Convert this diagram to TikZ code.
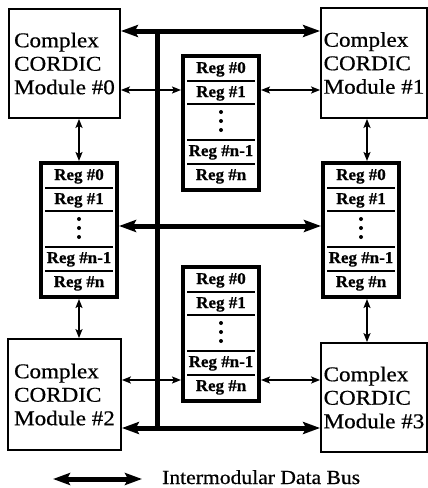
\documentclass[tikz,border=0pt]{standalone}
\usepackage{fontspec}
\setmainfont{Liberation Serif}
\newfontfamily\modfont[FakeStretch=1.1,FakeBold=0.6]{Liberation Serif}
\newfontfamily\regfont[FakeStretch=1.03,FakeBold=0.5]{Liberation Serif Bold}
\newfontfamily\legfont[FakeStretch=1.08,FakeBold=0.6]{Liberation Serif}
\usetikzlibrary{arrows.meta,calc}

\tikzset{
 module/.style={draw, line width=1.8pt, rectangle, align=left, inner sep=0pt,
   font=\modfont\fontsize{21}{23.5}\selectfont},
 stackbox/.style={draw, line width=4pt, rectangle, minimum width=76pt, minimum height=134pt, inner sep=0pt},
 sepline/.style={line width=2pt},
 reglabel/.style={anchor=base, inner sep=0pt, font=\regfont\fontsize{16.5}{18}\selectfont},
 bus/.style={line width=5pt, {Stealth[length=17pt,width=12pt,inset=3pt]}-{Stealth[length=17pt,width=12pt,inset=3pt]}},
 busline/.style={line width=5pt},
 link/.style={line width=1.6pt, {Stealth[length=9pt,width=7pt,inset=2pt]}-{Stealth[length=9pt,width=7pt,inset=2pt]}},
 legendtext/.style={anchor=base west, inner sep=0pt, font=\legfont\fontsize{20}{22}\selectfont},
}

\newcommand\regstack[2]{%
 \node[stackbox] (#1) at (#2) {};
 \foreach \s in {27,50,86,110}
   \draw[sepline] ([xshift=6pt,yshift=-\s*1pt]#1.north west) -- ([xshift=-6pt,yshift=-\s*1pt]#1.north east);
 \node[reglabel] (#1-r0) at ([yshift=-19pt]#1.north) {Reg \#0};
 \node[reglabel] (#1-r1) at ([yshift=-43pt]#1.north) {Reg \#1};
 \foreach \d in {58,67,76}
   \fill ([yshift=-\d*1pt]#1.north) circle (2pt);
 \node[reglabel] (#1-rn1) at ([yshift=-102pt]#1.north) {Reg \#n-1};
 \node[reglabel] (#1-rn) at ([yshift=-126pt]#1.north) {Reg \#n};
}

\begin{document}
\begin{tikzpicture}[x=1pt,y=-1pt]
\useasboundingbox (0,0) rectangle (428,488);

% modules
\node[module, minimum width=111pt, minimum height=109pt] (m0) at (64.5,63.5) {Complex\\CORDIC\\Module \#0};
\node[module, minimum width=106pt, minimum height=110pt] (m1) at (374,63) {Complex\\CORDIC\\Module \#1};
\node[module, minimum width=113pt, minimum height=111pt] (m2) at (64.5,394.5) {Complex\\CORDIC\\Module \#2};
\node[module, minimum width=106pt, minimum height=109pt] (m3) at (374,397.5) {Complex\\CORDIC\\Module \#3};

% register stacks
\regstack{ts}{221,123}
\regstack{bs}{221,334}
\regstack{ls}{79,230}
\regstack{rs}{361,230}

% bus
\coordinate (tj) at (157,31);
\coordinate (mj) at (157,226);
\coordinate (bj) at (157,428);
\draw[busline] (tj) -- (bj);
\draw[bus] (tj -| m0.east) -- (tj -| m1.west);
\draw[bus] (mj -| ls.east) -- (mj -| rs.west);
\draw[bus] (bj -| m2.east) -- (bj -| m3.west);

% thin links
\coordinate (ty) at (0,90);
\coordinate (by) at (0,380);
\coordinate (rx) at (367,0);
\draw[link] (m0.east |- ty) -- (ts.west |- ty);
\draw[link] (ts.east |- ty) -- (m1.west |- ty);
\draw[link] (m2.east |- by) -- (bs.west |- by);
\draw[link] (bs.east |- by) -- (m3.west |- by);
\draw[link] (ls.north |- m0.south) -- (ls.north);
\draw[link] (ls.south) -- (ls.south |- m2.north);
\draw[link] (rx |- m1.south) -- (rx |- rs.north);
\draw[link] (rx |- rs.south) -- (rx |- m3.north);

% legend
\coordinate (l1) at (53,479);
\coordinate (l2) at (142,479);
\draw[bus] (l1) -- (l2);
\node[legendtext] (legend) at (162,484) {Intermodular Data Bus};
\end{tikzpicture}
\end{document}
